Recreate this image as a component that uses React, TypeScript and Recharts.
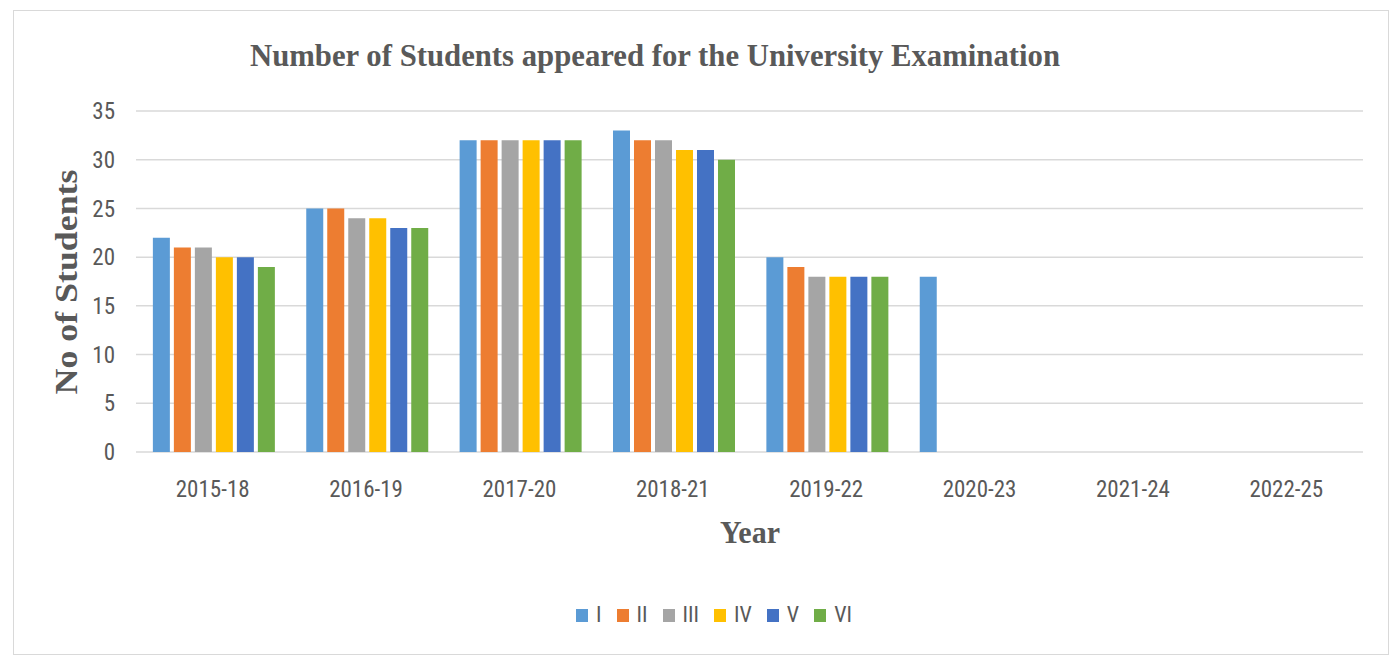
import React from 'react';
import { BarChart, Bar, XAxis, YAxis, CartesianGrid } from 'recharts';

const categories = ['2015-18', '2016-19', '2017-20', '2018-21', '2019-22', '2020-23', '2021-24', '2022-25'];
const seriesI = [22, 25, 32, 33, 20, 18, null, null];
const seriesII = [21, 25, 32, 32, 19, null, null, null];
const seriesIII = [21, 24, 32, 32, 18, null, null, null];
const seriesIV = [20, 24, 32, 31, 18, null, null, null];
const seriesV = [20, 23, 32, 31, 18, null, null, null];
const seriesVI = [19, 23, 32, 30, 18, null, null, null];
const seriesNames = ['I', 'II', 'III', 'IV', 'V', 'VI'];
const seriesColors = ['#5B9BD5', '#ED7D31', '#A5A5A5', '#FFC000', '#4472C4', '#70AD47'];
const yTicks = [0, 5, 10, 15, 20, 25, 30, 35];

const allSeries = [seriesI, seriesII, seriesIII, seriesIV, seriesV, seriesVI];
const data = categories.map((c, i) => {
  const row: Record<string, any> = { year: c };
  seriesNames.forEach((n, k) => { row[n] = allSeries[k][i]; });
  return row;
});

const TICK_FONT = "'Liberation Sans Narrow', 'Roboto Condensed', 'DejaVu Sans Condensed', sans-serif";
const SERIF = "'Liberation Serif', 'DejaVu Serif', serif";
const GREY = '#595959';

export default function App() {
  return (
    <div style={{ position: 'absolute', left: 0, top: 0, width: 1392, height: 658, background: '#fff' }}>
      <div style={{ position: 'absolute', left: 13, top: 10, width: 1374, height: 643, border: '1.5px solid #d9d9d9' }} />
      <div style={{ position: 'absolute', left: 0, top: 0 }}>
        <BarChart width={1392} height={658} data={data}
          margin={{ top: 111, right: 29, bottom: 176, left: 0 }}
          barCategoryGap="11%" barGap={4}>
          <CartesianGrid vertical={false} stroke="#d9d9d9" strokeWidth={1.5} />
          <XAxis dataKey="year" height={30} axisLine={false} tickLine={false} tickMargin={23}
            tick={{ fill: GREY, fontSize: 23, fontFamily: TICK_FONT }} />
          <YAxis width={136} domain={[0, 35]} ticks={yTicks} axisLine={false} tickLine={false} tickMargin={15}
            tick={{ fill: GREY, fontSize: 23, fontFamily: TICK_FONT }} />
          {seriesNames.map((n, i) => (
            <Bar key={n} dataKey={n} fill={seriesColors[i]} isAnimationActive={false} />
          ))}
        </BarChart>
      </div>
      <svg width={1392} height={658} style={{ position: 'absolute', left: 0, top: 0, pointerEvents: 'none' }}>
        <text x={655} y={66} textAnchor="middle" fontFamily={SERIF} fontWeight="bold" fontSize={32} fill={GREY}
          textLength={810} lengthAdjust="spacingAndGlyphs">Number of Students appeared for the University Examination</text>
        <text x={0} y={0} transform="translate(77,282) rotate(-90)" textAnchor="middle" fontFamily={SERIF} fontWeight="bold" fontSize={32} fill={GREY}
          textLength={225} lengthAdjust="spacingAndGlyphs">No of Students</text>
        <text x={750} y={543} textAnchor="middle" fontFamily={SERIF} fontWeight="bold" fontSize={32} fill={GREY}
          textLength={60} lengthAdjust="spacingAndGlyphs">Year</text>
      </svg>
      <div style={{ position: 'absolute', left: 576, top: 603, display: 'flex', alignItems: 'center', fontFamily: TICK_FONT, fontSize: 22, color: GREY, lineHeight: '24px' }}>
        {seriesNames.map((n, i) => (
          <div key={n} style={{ display: 'flex', alignItems: 'center', marginRight: 15 }}>
            <span style={{ display: 'inline-block', width: 12, height: 13, background: seriesColors[i], marginRight: 8 }} />
            <span>{n}</span>
          </div>
        ))}
      </div>
    </div>
  );
}
